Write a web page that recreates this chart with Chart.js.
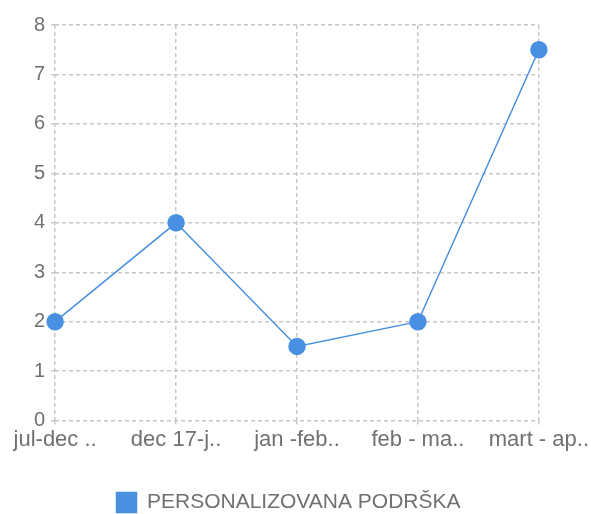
<!DOCTYPE html>
<html>
<head>
<meta charset="utf-8">
<script src="https://cdn.jsdelivr.net/npm/chart.js@4"></script>
<style>
  html, body { margin: 0; padding: 0; background: #fff; }
  #wrap { width: 591px; height: 514px; }
</style>
</head>
<body>
<div id="wrap"><canvas id="c" width="591" height="514"></canvas></div>
<script>
const categories = ["jul-dec ..", "dec 17-j..", "jan -feb..", "feb - ma..", "mart - ap.."];
const seriesName = "PERSONALIZOVANA PODRŠKA";
const seriesValues = [2, 4, 1.5, 2, 7.5];
const yMin = 0, yMax = 8, yStep = 1;

const blue = "#4a90e2";
const grid = "#c8c8c8";
const textColor = "#707070";
const fam = "'Liberation Sans', Arial, sans-serif";

new Chart(document.getElementById("c"), {
  type: "line",
  data: {
    labels: categories,
    datasets: [{
      label: seriesName,
      data: seriesValues,
      borderColor: blue,
      backgroundColor: blue,
      pointBackgroundColor: blue,
      pointBorderColor: blue,
      borderWidth: 1.5,
      pointRadius: 8,
      pointHoverRadius: 8,
      tension: 0,
      fill: false
    }]
  },
  options: {
    responsive: false,
    animation: false,
    devicePixelRatio: 1,
    layout: { padding: { top: 25, left: 0, right: 14, bottom: -9 } },
    plugins: {
      tooltip: { enabled: false },
      legend: {
        position: "bottom",
        labels: {
          boxWidth: 20,
          boxHeight: 20,
          padding: 10,
          color: textColor,
          font: { family: fam, size: 21 }
        }
      }
    },
    scales: {
      x: {
        offset: false,
        afterFit: (scale) => { scale.height += 27; },
        grid: { color: grid, lineWidth: 1.5, tickLength: 4, drawTicks: true },
        border: { display: false, dash: [4, 3] },
        ticks: {
          color: textColor,
          maxRotation: 0,
          autoSkip: false,
          padding: 2,
          font: { family: fam, size: 22 }
        }
      },
      y: {
        min: yMin,
        max: yMax,
        afterFit: (scale) => { scale.width += 28; },
        grid: { color: grid, lineWidth: 1.5, tickLength: 4 },
        border: { display: false, dash: [4, 3] },
        ticks: {
          stepSize: yStep,
          color: textColor,
          padding: 6,
          font: { family: fam, size: 20 }
        }
      }
    }
  }
});
</script>
</body>
</html>
